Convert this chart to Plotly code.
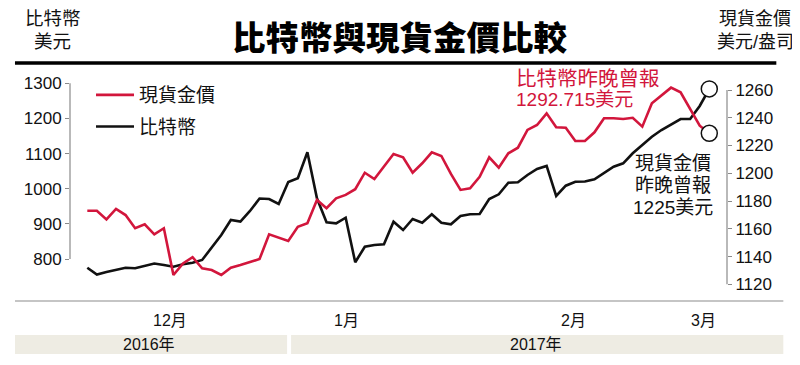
import plotly.graph_objects as go

# ---------------- data ----------------
gold_price = [1173.0, 1173.0, 1166.8, 1174.3, 1169.9, 1160.4, 1163.2, 1156.0, 1160.4, 1126.7,
              1135.1, 1139.5, 1131.5, 1130.3, 1126.7, 1132.0, 1133.9, 1136.1, 1138.2, 1156.0,
              1153.4, 1151.2, 1161.5, 1164.0, 1180.8, 1174.8, 1182.0, 1184.4, 1188.5, 1200.4,
              1195.9, 1204.7, 1213.9, 1211.5, 1200.4, 1207.2, 1215.1, 1212.5, 1199.5, 1188.0,
              1189.2, 1197.5, 1211.5, 1204.0, 1214.4, 1218.4, 1231.2, 1234.8, 1243.2, 1233.1,
              1232.8, 1223.3, 1223.3, 1229.5, 1239.6, 1239.6, 1239.1, 1240.0, 1233.6, 1250.4,
              1255.9, 1261.7, 1258.3, 1246.8, 1234.3, 1228.8]
bitcoin_price = [775.2, 755.9, 763.0, 770.1, 775.2, 773.5, 780.1, 787.2, 782.9, 778.1,
                 784.9, 789.2, 797.2, 831.3, 868.3, 911.0, 906.7, 936.6, 972.2, 970.7,
                 956.5, 1019.1, 1029.7, 1103.6, 972.7, 904.4, 901.6, 917.5, 790.6, 835.0,
                 839.8, 841.8, 906.1, 882.5, 913.8, 903.3, 927.2, 903.3, 898.7, 922.4,
                 927.2, 928.1, 970.7, 984.1, 1017.1, 1018.3, 1039.0, 1056.1, 1064.7, 979.3,
                 1008.6, 1020.0, 1020.5, 1026.8, 1043.9, 1062.7, 1072.3, 1100.8, 1124.4, 1148.0,
                 1167.1, 1183.3, 1198.4, 1198.4, 1235.4, 1284.0]
day_index = list(range(len(gold_price)))

month_labels = ["12月", "1月", "2月", "3月"]
month_pos = [8.65, 27.1, 50.8, 64.4]
year_labels = ["2016年", "2017年"]

left_ticks = [800, 900, 1000, 1100, 1200, 1300]
right_ticks = [1120, 1140, 1160, 1180, 1200, 1220, 1240, 1260]

title_text = "比特幣與現貨金價比較"
left_unit = ["比特幣", "美元"]
right_unit = ["現貨金價", "美元/盎司"]
btc_note = ["比特幣昨晚曾報", "1292.715美元"]
gold_note = ["現貨金價", "昨晚曾報", "1225美元"]

# ---------------- layout helpers ----------------
# the page body has an 8px margin, so the figure is drawn 8px right/down
OFF = 8
W, H = 800 - OFF, 365 - OFF
L, R, T, B = 70, 726.7, 80, 290          # plot area in window pixels


def px(x):
    return (x - L) / (R - L)


def py(y):
    return (B - y) / (B - T)


RED = "#d2163c"
BLACK = "#111111"
AXIS = "#8a8a8a"
FONT = "Liberation Sans, Arial, Noto Sans CJK TC, sans-serif"
CJK = "Noto Sans CJK TC, sans-serif"

fig = go.Figure()

fig.add_trace(go.Scatter(x=day_index, y=gold_price, yaxis="y2", mode="lines",
                         name="現貨金價", line=dict(color=RED, width=2.6),
                         legendrank=1, legendgroup="g"))
fig.add_trace(go.Scatter(x=day_index, y=bitcoin_price, yaxis="y", mode="lines",
                         name="比特幣", line=dict(color=BLACK, width=2.6),
                         legendrank=2, legendgroup="b"))
# end point circles
fig.add_trace(go.Scatter(x=[day_index[-1]], y=[bitcoin_price[-1]], yaxis="y", mode="markers",
                         marker=dict(size=16, color="white", line=dict(color=BLACK, width=1.5)),
                         showlegend=False))
fig.add_trace(go.Scatter(x=[day_index[-1]], y=[gold_price[-1]], yaxis="y2", mode="markers",
                         marker=dict(size=16, color="white", line=dict(color=BLACK, width=1.5)),
                         showlegend=False))

shapes = []
# axis lines
shapes.append(dict(type="line", xref="paper", yref="y", x0=0, x1=0,
                   y0=left_ticks[0], y1=left_ticks[-1], line=dict(color=AXIS, width=1.2)))
shapes.append(dict(type="line", xref="paper", yref="y2", x0=1, x1=1,
                   y0=right_ticks[0], y1=right_ticks[-1], line=dict(color=AXIS, width=1.2)))
# thick top rule
shapes.append(dict(type="line", xref="paper", yref="paper", x0=px(15), x1=px(776),
                   y0=py(63), y1=py(63), line=dict(color="#000000", width=3.5)))
# bottom gray rule
shapes.append(dict(type="line", xref="paper", yref="paper", x0=px(15), x1=px(783),
                   y0=py(301), y1=py(301), line=dict(color="#8c8c8c", width=1.2)))
# year bands
band_x = [(15, 287), (291, 783)]
for (a, b) in band_x:
    shapes.append(dict(type="rect", xref="paper", yref="paper", x0=px(a), x1=px(b),
                       y0=py(354), y1=py(335), fillcolor="#eeece3", line=dict(width=0),
                       layer="below"))

annotations = []
# title
annotations.append(dict(text=title_text, xref="paper", yref="paper", x=px(400), y=py(35),
                        showarrow=False, xanchor="center", yanchor="middle",
                        font=dict(family=CJK, size=33.5, color="#000000", weight=900)))
for i, t in enumerate(left_unit):
    annotations.append(dict(text=t, xref="paper", yref="paper", x=px(53), y=py(19 + 23 * i),
                            showarrow=False, xanchor="center", yanchor="middle",
                            font=dict(family=FONT, size=18.5, color="#111")))
for i, t in enumerate(right_unit):
    annotations.append(dict(text=t, xref="paper", yref="paper", x=px(755), y=py(19 + 23 * i),
                            showarrow=False, xanchor="center", yanchor="middle",
                            font=dict(family=FONT, size=18, color="#111")))
note_sizes = [20.5, 19]
for i, t in enumerate(btc_note):
    annotations.append(dict(text=t, xref="paper", yref="paper", x=px(514), y=py(78 + 21 * i),
                            showarrow=False, xanchor="left", yanchor="middle",
                            font=dict(family=FONT, size=note_sizes[i], color=RED)))
for i, t in enumerate(gold_note):
    annotations.append(dict(text=t, xref="paper", yref="paper", x=px(673), y=py(163 + 22 * i),
                            showarrow=False, xanchor="center", yanchor="middle",
                            font=dict(family=FONT, size=19, color="#111")))
for t, p in zip(month_labels, month_pos):
    annotations.append(dict(text=t, xref="x", yref="paper", x=p, y=py(320),
                            showarrow=False, xanchor="center", yanchor="middle",
                            font=dict(family=FONT, size=16, color="#111")))
year_centers = [149, 536]
for t, c in zip(year_labels, year_centers):
    annotations.append(dict(text=t, xref="paper", yref="paper", x=px(c), y=py(344.5),
                            showarrow=False, xanchor="center", yanchor="middle",
                            font=dict(family=FONT, size=16, color="#111")))

x_lo = -(87.3 - L) / 9.565
x_hi = 65 + (R - 709) / 9.565
yl_hi = 1300 + (83.3 - T) / 0.3514
yl_lo = 1300 - (B - 83.3) / 0.3514
yr_hi = 1260 + (90 - T) / 1.388
yr_lo = 1260 - (B - 90) / 1.388

fig.update_layout(
    width=W, height=H,
    margin=dict(l=L - OFF, r=800 - R, t=T - OFF, b=365 - B, pad=0),
    paper_bgcolor="white", plot_bgcolor="white",
    font=dict(family=FONT, color="#111"),
    showlegend=True,
    legend=dict(x=px(91), y=py(76), xanchor="left", yanchor="top",
                font=dict(family=FONT, size=19, color="#111"),
                bgcolor="rgba(0,0,0,0)", itemwidth=38, tracegroupgap=4,
                traceorder="grouped"),
    xaxis=dict(range=[x_lo, x_hi], showgrid=False, zeroline=False, showline=False,
               showticklabels=False, ticks=""),
    yaxis=dict(range=[yl_lo, yl_hi], tickvals=left_ticks, showgrid=False, zeroline=False,
               showline=False, ticks="outside", ticklen=4, tickcolor=AXIS, tickwidth=1.2,
               tickfont=dict(family=FONT, size=17, color="#111")),
    yaxis2=dict(range=[yr_lo, yr_hi], tickvals=right_ticks, overlaying="y", side="right",
                showgrid=False, zeroline=False, showline=False, ticks="outside", ticklen=4,
                tickcolor=AXIS, tickwidth=1.2,
                tickfont=dict(family=FONT, size=17, color="#111")),
    shapes=shapes,
    annotations=annotations,
)

fig.write_html("out.html")
